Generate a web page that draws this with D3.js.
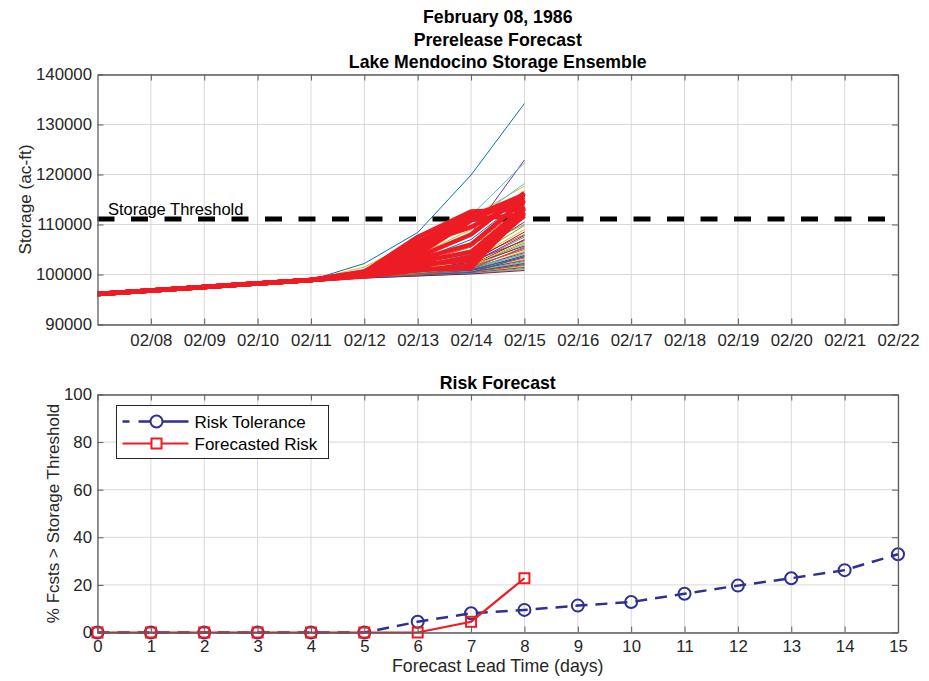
<!DOCTYPE html>
<html>
<head>
  <title>Lake Mendocino Storage Ensemble</title>
  <style>
    body { margin: 0; background: white; }
    svg { font-family: "Liberation Sans", Arial, sans-serif; }
  </style>
</head>
<body>
  <script src="https://d3js.org/d3.v7.min.js"></script>
  <script>
    // ---- data ----
    const histDates = ["1986-02-07", "1986-02-08", "1986-02-09", "1986-02-10", "1986-02-11"];
    const histStorage = [96100, 96800, 97500, 98200, 98900];
    const forecastDates = ["1986-02-12", "1986-02-13", "1986-02-14", "1986-02-15"];

    // thin ensemble members (storage on 02/12..02/15)
    const thinMembers = [
      [102200, 108400, 119900, 134200], [99900, 100900, 103000, 108000],
      [101500, 106900, 111500, 117700], [100300, 103000, 108200, 122900],
      [99800, 100600, 102200, 107500], [101000, 104800, 111800, 122300],
      [99700, 100500, 101900, 107000], [100400, 102800, 107000, 115200],
      [100200, 102300, 105500, 114000], [100600, 103800, 109000, 116800],
      [100100, 101500, 103800, 110500], [99900, 101200, 103200, 109800],
      [100900, 104500, 110500, 118200], [99800, 100800, 102500, 108500],
      [100000, 101800, 104000, 112300], [100300, 102500, 106000, 111200],
      [100000, 101000, 102800, 109000], [99800, 100700, 102600, 106800],
      [99700, 100400, 101700, 106300], [99600, 100300, 101500, 106000],
      [99700, 100500, 102000, 105700], [99600, 100200, 101300, 105300],
      [99600, 100300, 101600, 105000], [99500, 100100, 101000, 104700],
      [99600, 100200, 101200, 104400], [99500, 100100, 100900, 104200],
      [99600, 100300, 101400, 104000], [99500, 100000, 100800, 103800],
      [99500, 100100, 101000, 103500], [99500, 100000, 100700, 103300],
      [99400, 99900, 100600, 103000], [99500, 100000, 100800, 102800],
      [99400, 99900, 100500, 102600], [99500, 100000, 100600, 102400],
      [99400, 99900, 100500, 102200], [99400, 99800, 100400, 102000],
      [99400, 99900, 100500, 101800], [99400, 99800, 100300, 101600],
      [99300, 99800, 100300, 101400], [99400, 99800, 100200, 101200],
      [99300, 99700, 100200, 101000], [99300, 99700, 100100, 100800],
      [99400, 99900, 100400, 103600], [99500, 100000, 101100, 105500],
      [99600, 100400, 101800, 106600], [99700, 100600, 102300, 107800],
      [100200, 102000, 105000, 110000]
    ];
    // highlighted (red) ensemble members
    const redMembers = [
      [100500, 107500, 112600, 113000], [100300, 106500, 112000, 114500],
      [100000, 105000, 111500, 116000], [100200, 104000, 110800, 115500],
      [99900, 103000, 106000, 114800], [99800, 102500, 104500, 113500],
      [99700, 101500, 103500, 112500], [99600, 101000, 101300, 113200],
      [100100, 104500, 111000, 112000], [99900, 102000, 102800, 111800],
      [100600, 106000, 109500, 115000], [99700, 100800, 101800, 112200],
      [100400, 105500, 112300, 113800], [99800, 103500, 108000, 116300]
    ];
    const storageThreshold = 111100;
    const storageTicks = [90000, 100000, 110000, 120000, 130000, 140000];

    const leadDays = d3.range(0, 16);
    const riskTolerance = [0, 0, 0, 0, 0, 0, 4.5, 8.1, 9.5, 11.3, 12.8, 16.3, 19.7, 22.8, 26.2, 32.9];
    const forecastedRisk = [0, 0, 0, 0, 0, 0, 0, 4.5, 22.8];
    const riskTicks = [0, 20, 40, 60, 80, 100];

    const titles = ["February 08, 1986", "Prerelease Forecast", "Lake Mendocino Storage Ensemble"];

    // ---- setup ----
    const W = 929, H = 681;
    const left = 97.5, right = 898;
    const textColor = "#262626", axisColor = "#5e5e5e", gridColor = "#ddd6d6";
    const mColors = ["#0072BD", "#D95319", "#EDB120", "#7E2F8E", "#77AC30", "#4DBEEE", "#A2142F"];
    const red = "#ED1C24", blue = "#2E3192";
    const parse = d3.timeParse("%Y-%m-%d");

    const svg = d3.select("body").append("svg")
      .attr("width", W)
      .attr("height", H);

    // titles
    svg.selectAll(".title")
      .data(titles)
      .enter().append("text")
      .attr("x", (left + right) / 2)
      .attr("y", (d, i) => 23 + i * 22.5)
      .attr("text-anchor", "middle")
      .attr("font-size", 17.7)
      .attr("font-weight", "bold")
      .attr("fill", "#000")
      .text(d => d);

    // ---- top plot ----
    const top1 = 74.5, bottom1 = 324.5;
    const x1 = d3.scaleTime()
      .domain([parse("1986-02-07"), parse("1986-02-22")])
      .range([left, right]);
    const y1 = d3.scaleLinear()
      .domain([90000, 140000])
      .range([bottom1, top1]);
    const dayTicks = d3.timeDay.range(parse("1986-02-08"), parse("1986-02-23"));

    const g1 = svg.append("g");
    // grid
    g1.selectAll(".vgrid").data(dayTicks).enter().append("line")
      .attr("x1", d => x1(d)).attr("x2", d => x1(d))
      .attr("y1", top1).attr("y2", bottom1)
      .attr("stroke", gridColor);
    g1.selectAll(".hgrid").data(storageTicks).enter().append("line")
      .attr("x1", left).attr("x2", right)
      .attr("y1", d => y1(d)).attr("y2", d => y1(d))
      .attr("stroke", gridColor);

    const line1 = d3.line()
      .x(d => x1(d[0]))
      .y(d => y1(d[1]));
    const histPts = histDates.map((d, i) => [parse(d), histStorage[i]]);
    const memberPts = m => histPts.concat(forecastDates.map((d, i) => [parse(d), m[i]]));

    g1.selectAll(".thin").data(thinMembers).enter().append("path")
      .attr("d", m => line1(memberPts(m)))
      .attr("fill", "none")
      .attr("stroke", (d, i) => mColors[i % mColors.length])
      .attr("stroke-width", 1);

    // threshold
    g1.append("line")
      .attr("x1", left).attr("x2", right)
      .attr("y1", y1(storageThreshold)).attr("y2", y1(storageThreshold))
      .attr("stroke", "#000")
      .attr("stroke-width", 5)
      .attr("stroke-dasharray", "17,16.5");

    g1.selectAll(".red").data(redMembers).enter().append("path")
      .attr("d", m => line1(memberPts(m)))
      .attr("fill", "none")
      .attr("stroke", red)
      .attr("stroke-width", 4.5)
      .attr("stroke-linejoin", "round");

    g1.append("text")
      .attr("x", 108).attr("y", y1(storageThreshold) - 4)
      .attr("font-size", 16.5)
      .attr("fill", "#000")
      .text("Storage Threshold");

    // axes (inward ticks, box)
    function styleAxis(g) {
      g.select(".domain").attr("stroke", axisColor).attr("stroke-width", 1.3);
      g.selectAll(".tick line").attr("stroke", axisColor);
      g.selectAll("text").attr("fill", textColor).attr("font-size", 16.8).attr("font-family", null);
    }
    svg.append("g")
      .attr("transform", `translate(0,${bottom1})`)
      .call(d3.axisBottom(x1).tickValues(dayTicks).tickFormat(d3.timeFormat("%m/%d"))
        .tickSizeInner(-6).tickSizeOuter(0).tickPadding(9.5))
      .call(styleAxis);
    svg.append("g")
      .attr("transform", `translate(0,${top1})`)
      .call(d3.axisTop(x1).tickValues(dayTicks).tickFormat("")
        .tickSizeInner(-6).tickSizeOuter(0))
      .call(styleAxis);
    svg.append("g")
      .attr("transform", `translate(${left},0)`)
      .call(d3.axisLeft(y1).tickValues(storageTicks).tickFormat(d3.format("d"))
        .tickSizeInner(-6).tickSizeOuter(0).tickPadding(5.5))
      .call(styleAxis);
    svg.append("g")
      .attr("transform", `translate(${right},0)`)
      .call(d3.axisRight(y1).tickValues(storageTicks).tickFormat("")
        .tickSizeInner(-6).tickSizeOuter(0))
      .call(styleAxis);

    svg.append("text")
      .attr("transform", `translate(31,${(top1 + bottom1) / 2}) rotate(-90)`)
      .attr("text-anchor", "middle")
      .attr("font-size", 17.2)
      .attr("fill", textColor)
      .text("Storage (ac-ft)");

    // ---- bottom plot ----
    const top2 = 394.5, bottom2 = 632.5;
    const x2 = d3.scaleLinear().domain([0, 15]).range([left, right]);
    const y2 = d3.scaleLinear().domain([0, 100]).range([bottom2, top2]);

    svg.append("text")
      .attr("x", (left + right) / 2).attr("y", 389)
      .attr("text-anchor", "middle")
      .attr("font-size", 17.7)
      .attr("font-weight", "bold")
      .attr("fill", "#000")
      .text("Risk Forecast");

    const g2 = svg.append("g");
    g2.selectAll(".vgrid").data(leadDays).enter().append("line")
      .attr("x1", d => x2(d)).attr("x2", d => x2(d))
      .attr("y1", top2).attr("y2", bottom2)
      .attr("stroke", gridColor);
    g2.selectAll(".hgrid").data(riskTicks).enter().append("line")
      .attr("x1", left).attr("x2", right)
      .attr("y1", d => y2(d)).attr("y2", d => y2(d))
      .attr("stroke", gridColor);

    svg.append("g")
      .attr("transform", `translate(0,${bottom2})`)
      .call(d3.axisBottom(x2).tickValues(leadDays).tickFormat(d3.format("d"))
        .tickSizeInner(-6).tickSizeOuter(0).tickPadding(8))
      .call(styleAxis);
    svg.append("g")
      .attr("transform", `translate(0,${top2})`)
      .call(d3.axisTop(x2).tickValues(leadDays).tickFormat("")
        .tickSizeInner(-6).tickSizeOuter(0))
      .call(styleAxis);
    svg.append("g")
      .attr("transform", `translate(${left},0)`)
      .call(d3.axisLeft(y2).tickValues(riskTicks).tickFormat(d3.format("d"))
        .tickSizeInner(-6).tickSizeOuter(0).tickPadding(5.5))
      .call(styleAxis);
    svg.append("g")
      .attr("transform", `translate(${right},0)`)
      .call(d3.axisRight(y2).tickValues(riskTicks).tickFormat("")
        .tickSizeInner(-6).tickSizeOuter(0))
      .call(styleAxis);

    const line2 = d3.line()
      .x((d, i) => x2(leadDays[i]))
      .y(d => y2(d));

    g2.append("path")
      .attr("d", line2(riskTolerance))
      .attr("fill", "none")
      .attr("stroke", blue)
      .attr("stroke-width", 2.5)
      .attr("stroke-dasharray", "12,8");
    g2.selectAll(".circ").data(riskTolerance).enter().append("circle")
      .attr("cx", (d, i) => x2(leadDays[i]))
      .attr("cy", d => y2(d))
      .attr("r", 6)
      .attr("fill", "none")
      .attr("stroke", blue)
      .attr("stroke-width", 2);

    g2.append("path")
      .attr("d", line2(forecastedRisk))
      .attr("fill", "none")
      .attr("stroke", red)
      .attr("stroke-width", 2.2);
    g2.selectAll(".sq").data(forecastedRisk).enter().append("rect")
      .attr("x", (d, i) => x2(leadDays[i]) - 5)
      .attr("y", d => y2(d) - 5)
      .attr("width", 10).attr("height", 10)
      .attr("fill", "none")
      .attr("stroke", red)
      .attr("stroke-width", 2);

    svg.append("text")
      .attr("x", (left + right) / 2).attr("y", 672)
      .attr("text-anchor", "middle")
      .attr("font-size", 17.8)
      .attr("fill", textColor)
      .text("Forecast Lead Time (days)");
    svg.append("text")
      .attr("transform", `translate(59,${(top2 + bottom2) / 2}) rotate(-90)`)
      .attr("text-anchor", "middle")
      .attr("font-size", 17)
      .attr("fill", textColor)
      .text("% Fcsts > Storage Threshold");

    // legend
    const lg = svg.append("g").attr("transform", "translate(116.5,405.5)");
    lg.append("rect")
      .attr("width", 212).attr("height", 53)
      .attr("fill", "white")
      .attr("stroke", "#262626");
    lg.append("line")
      .attr("x1", 6).attr("x2", 72).attr("y1", 16).attr("y2", 16)
      .attr("stroke", blue).attr("stroke-width", 2.5)
      .attr("stroke-dasharray", "7,9,50,9,7");
    lg.append("circle")
      .attr("cx", 40).attr("cy", 16).attr("r", 6)
      .attr("fill", "white").attr("stroke", blue).attr("stroke-width", 2);
    lg.append("line")
      .attr("x1", 6).attr("x2", 72).attr("y1", 38).attr("y2", 38)
      .attr("stroke", red).attr("stroke-width", 2.2);
    lg.append("rect")
      .attr("x", 35).attr("y", 33).attr("width", 10).attr("height", 10)
      .attr("fill", "white").attr("stroke", red).attr("stroke-width", 2);
    lg.selectAll(".lt").data(["Risk Tolerance", "Forecasted Risk"]).enter().append("text")
      .attr("x", 78)
      .attr("y", (d, i) => 22 + i * 22)
      .attr("font-size", 17)
      .attr("fill", "#000")
      .text(d => d);
  </script>
</body>
</html>
